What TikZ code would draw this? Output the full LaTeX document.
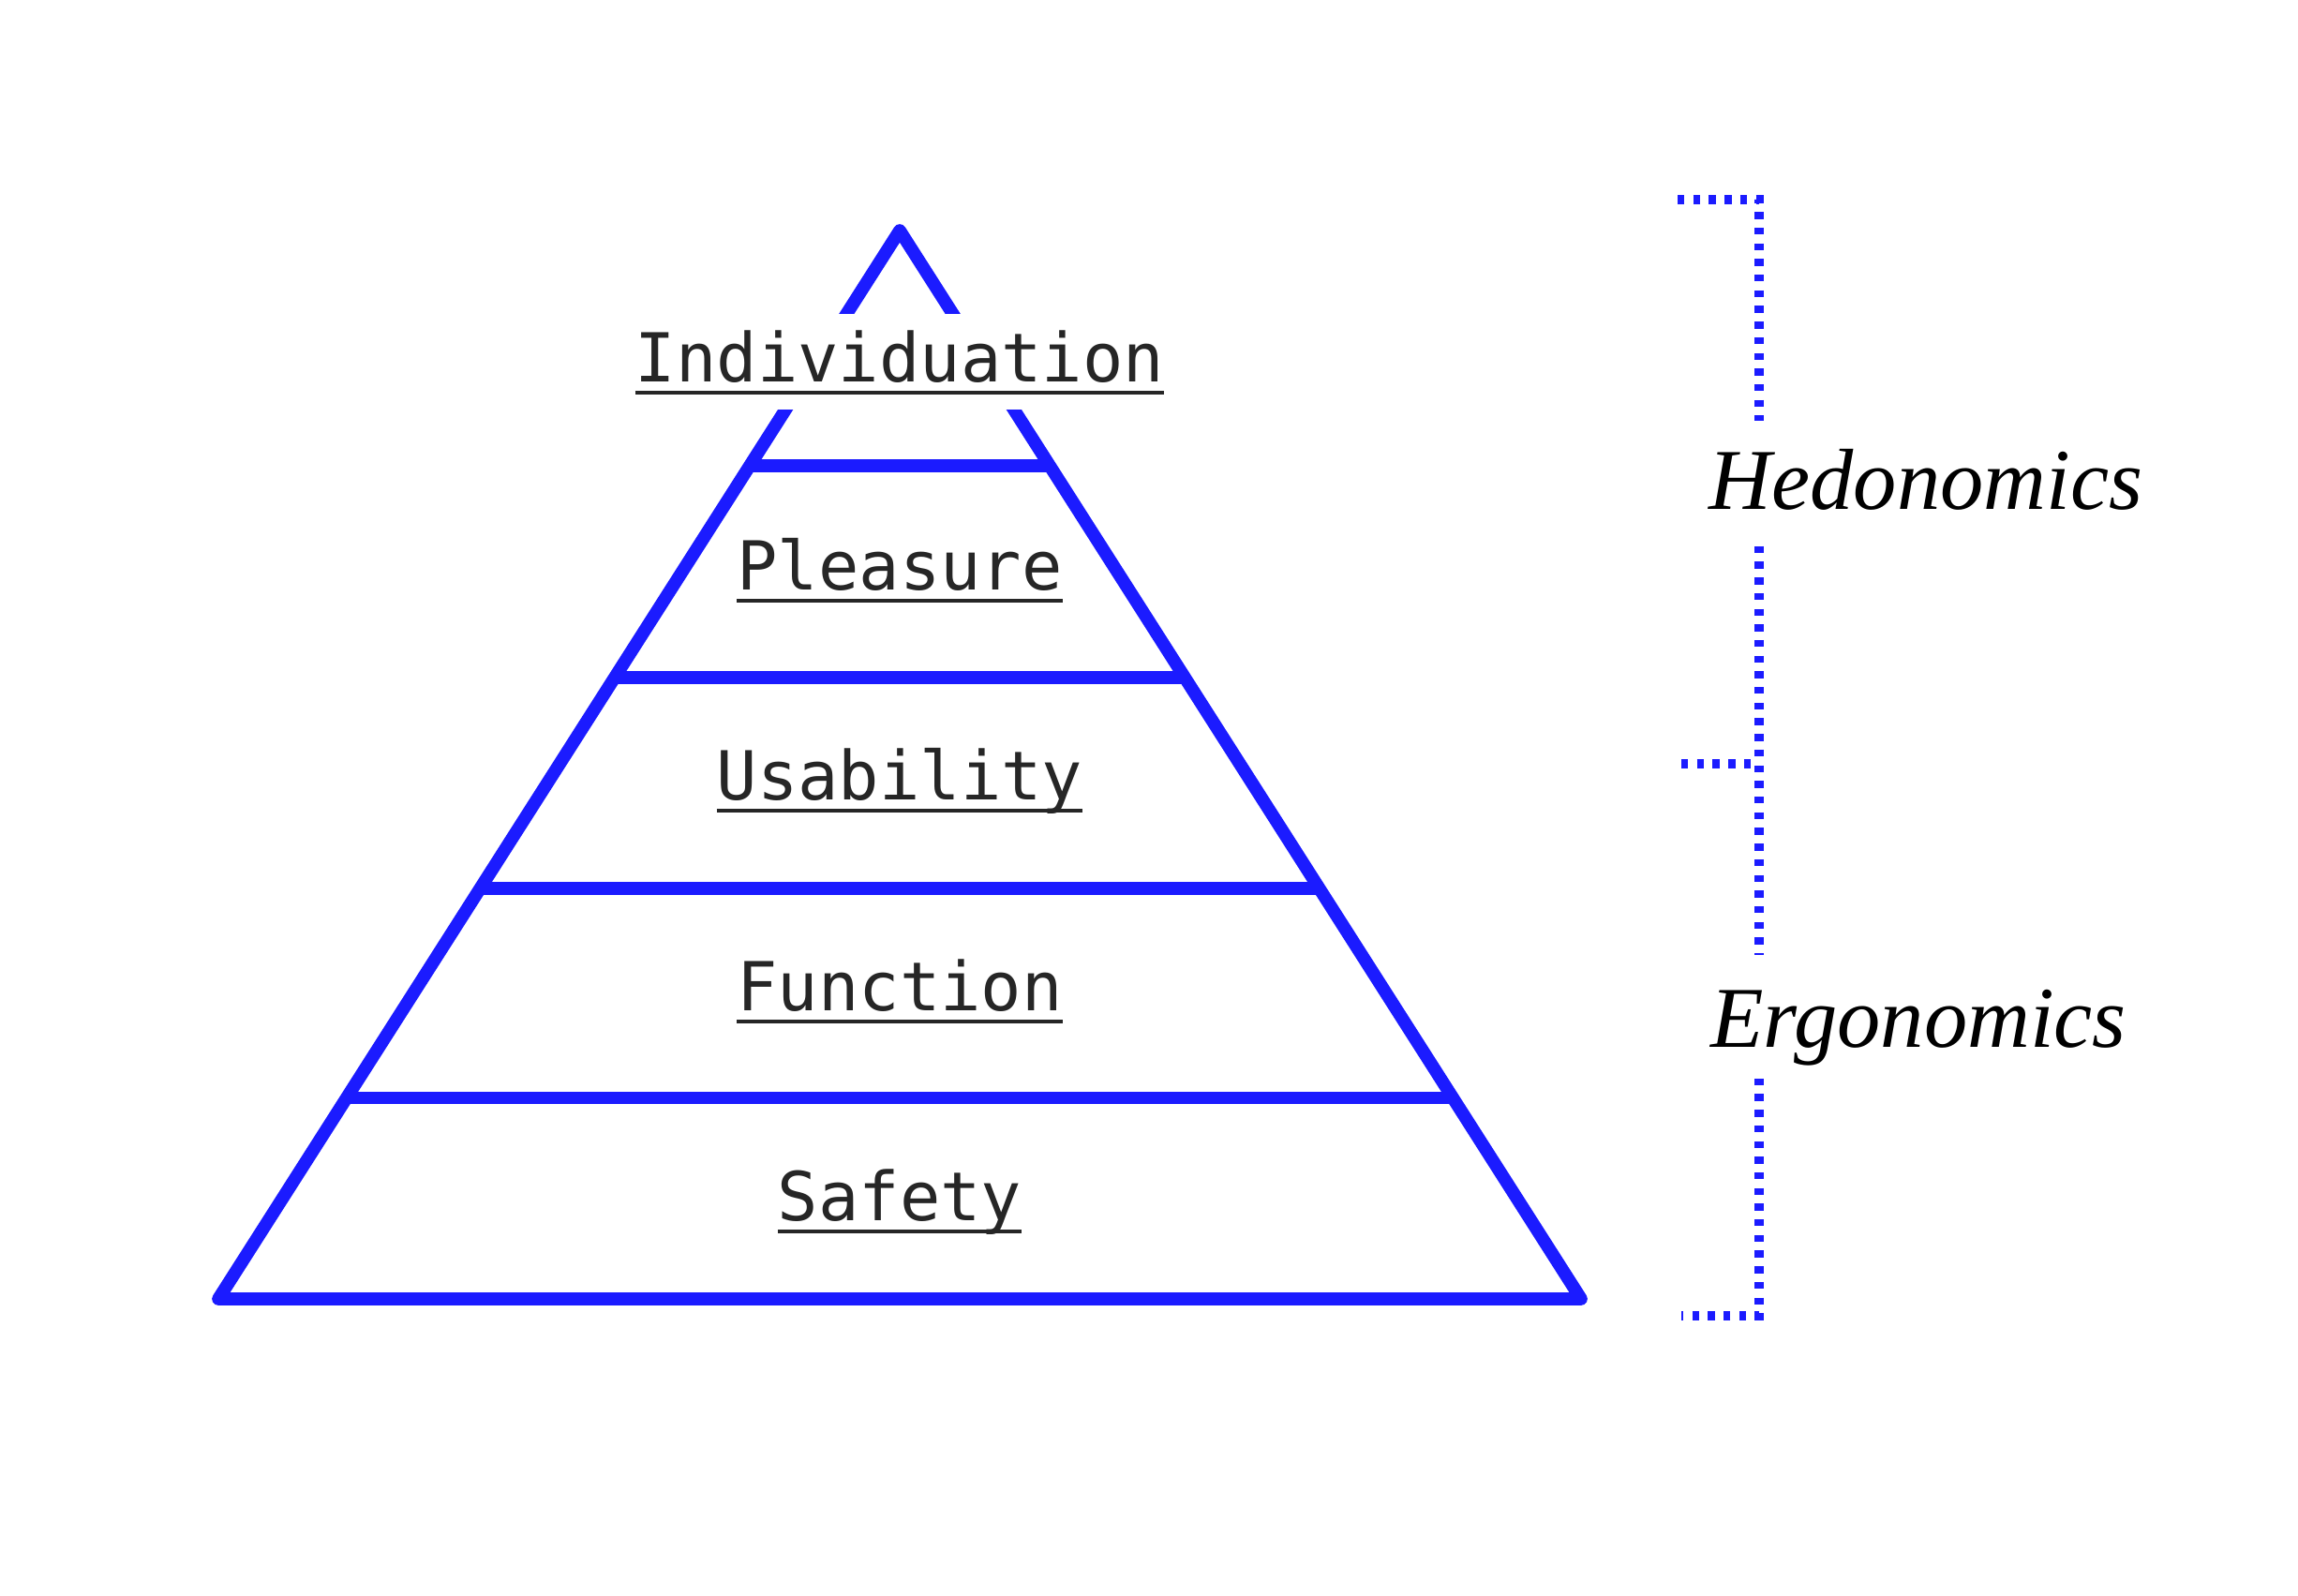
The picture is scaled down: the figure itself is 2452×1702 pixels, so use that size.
\documentclass[tikz,border=0pt]{standalone}
\usepackage{fontspec}
\setmonofont{DejaVu Sans Mono}
\newfontfamily\hedfont{Liberation Serif}
\usetikzlibrary{calc}
\definecolor{pyrblue}{RGB}{27,27,255}
\definecolor{labgray}{RGB}{38,38,38}
\newsavebox\lblbox
\newcommand{\ulbox}[1]{\sbox\lblbox{#1}\rlap{\rule[-4.1pt]{\wd\lblbox}{1.35pt}}\usebox\lblbox}
\tikzset{
  pyrline/.style={draw=pyrblue, line width=3.9pt},
  level/.style={inner sep=0pt, anchor=base, text=labgray, font=\ttfamily\fontsize{20.5}{24}\selectfont},
  sidelabel/.style={inner sep=0pt, anchor=base, text=black, font=\hedfont\itshape\fontsize{26.3}{30}\selectfont},
  dotline/.style={draw=pyrblue, line width=2.85pt, dash pattern=on 2.1pt off 2.65pt}
}
\begin{document}
\begin{tikzpicture}[x=0.01cm, y=-0.01cm]
\useasboundingbox[fill=white] (0,0) rectangle (2452,1702);
% pyramid
\coordinate (A) at (960,246);
\coordinate (BL) at (233,1386);
\coordinate (BR) at (1687,1386);
\draw[pyrline, line join=round] (A) -- (BR) -- (BL) -- cycle;
\foreach \t/\n in {0.2202/1, 0.4186/2, 0.6158/3, 0.8118/4}{
  \draw[pyrline] ($(A)!\t!(BL)$) coordinate (L\n) -- ($(A)!\t!(BR)$) coordinate (R\n);
}
% labels
\node[level, fill=white, text height=0.72cm, text depth=0.30cm, inner xsep=6pt] (indiv) at (960,407) {\ulbox{Individuation}};
\node[level] (pleas) at (960,629) {\ulbox{Pleasure}};
\node[level] (usab) at (960,853) {\ulbox{Usability}};
\node[level] (func) at (960,1078) {\ulbox{Function}};
\node[level] (safe) at (960,1302) {\ulbox{Safety}};
% side labels
\node[sidelabel, text height=0.93cm, text depth=0.39cm] (hed) at (2055,543) {Hedonomics};
\node[sidelabel, text height=0.97cm, text depth=0.33cm] (erg) at (2047,1117) {Ergonomics};
% bracket
\coordinate (t0) at (1790,213);
\coordinate (tc) at (1877,213);
\coordinate (m0) at (1794,815);
\coordinate (b0) at (1794,1404);
\coordinate (bc) at (1877,1404);
\draw[dotline] (t0) -- (tc) -- (tc |- hed.north);
\draw[dotline] (tc |- hed.south) -- (tc |- erg.north);
\draw[dotline] (m0) -- (m0 -| tc);
\draw[dotline] (tc |- erg.south) -- (bc) -- (b0);
\end{tikzpicture}
\end{document}
